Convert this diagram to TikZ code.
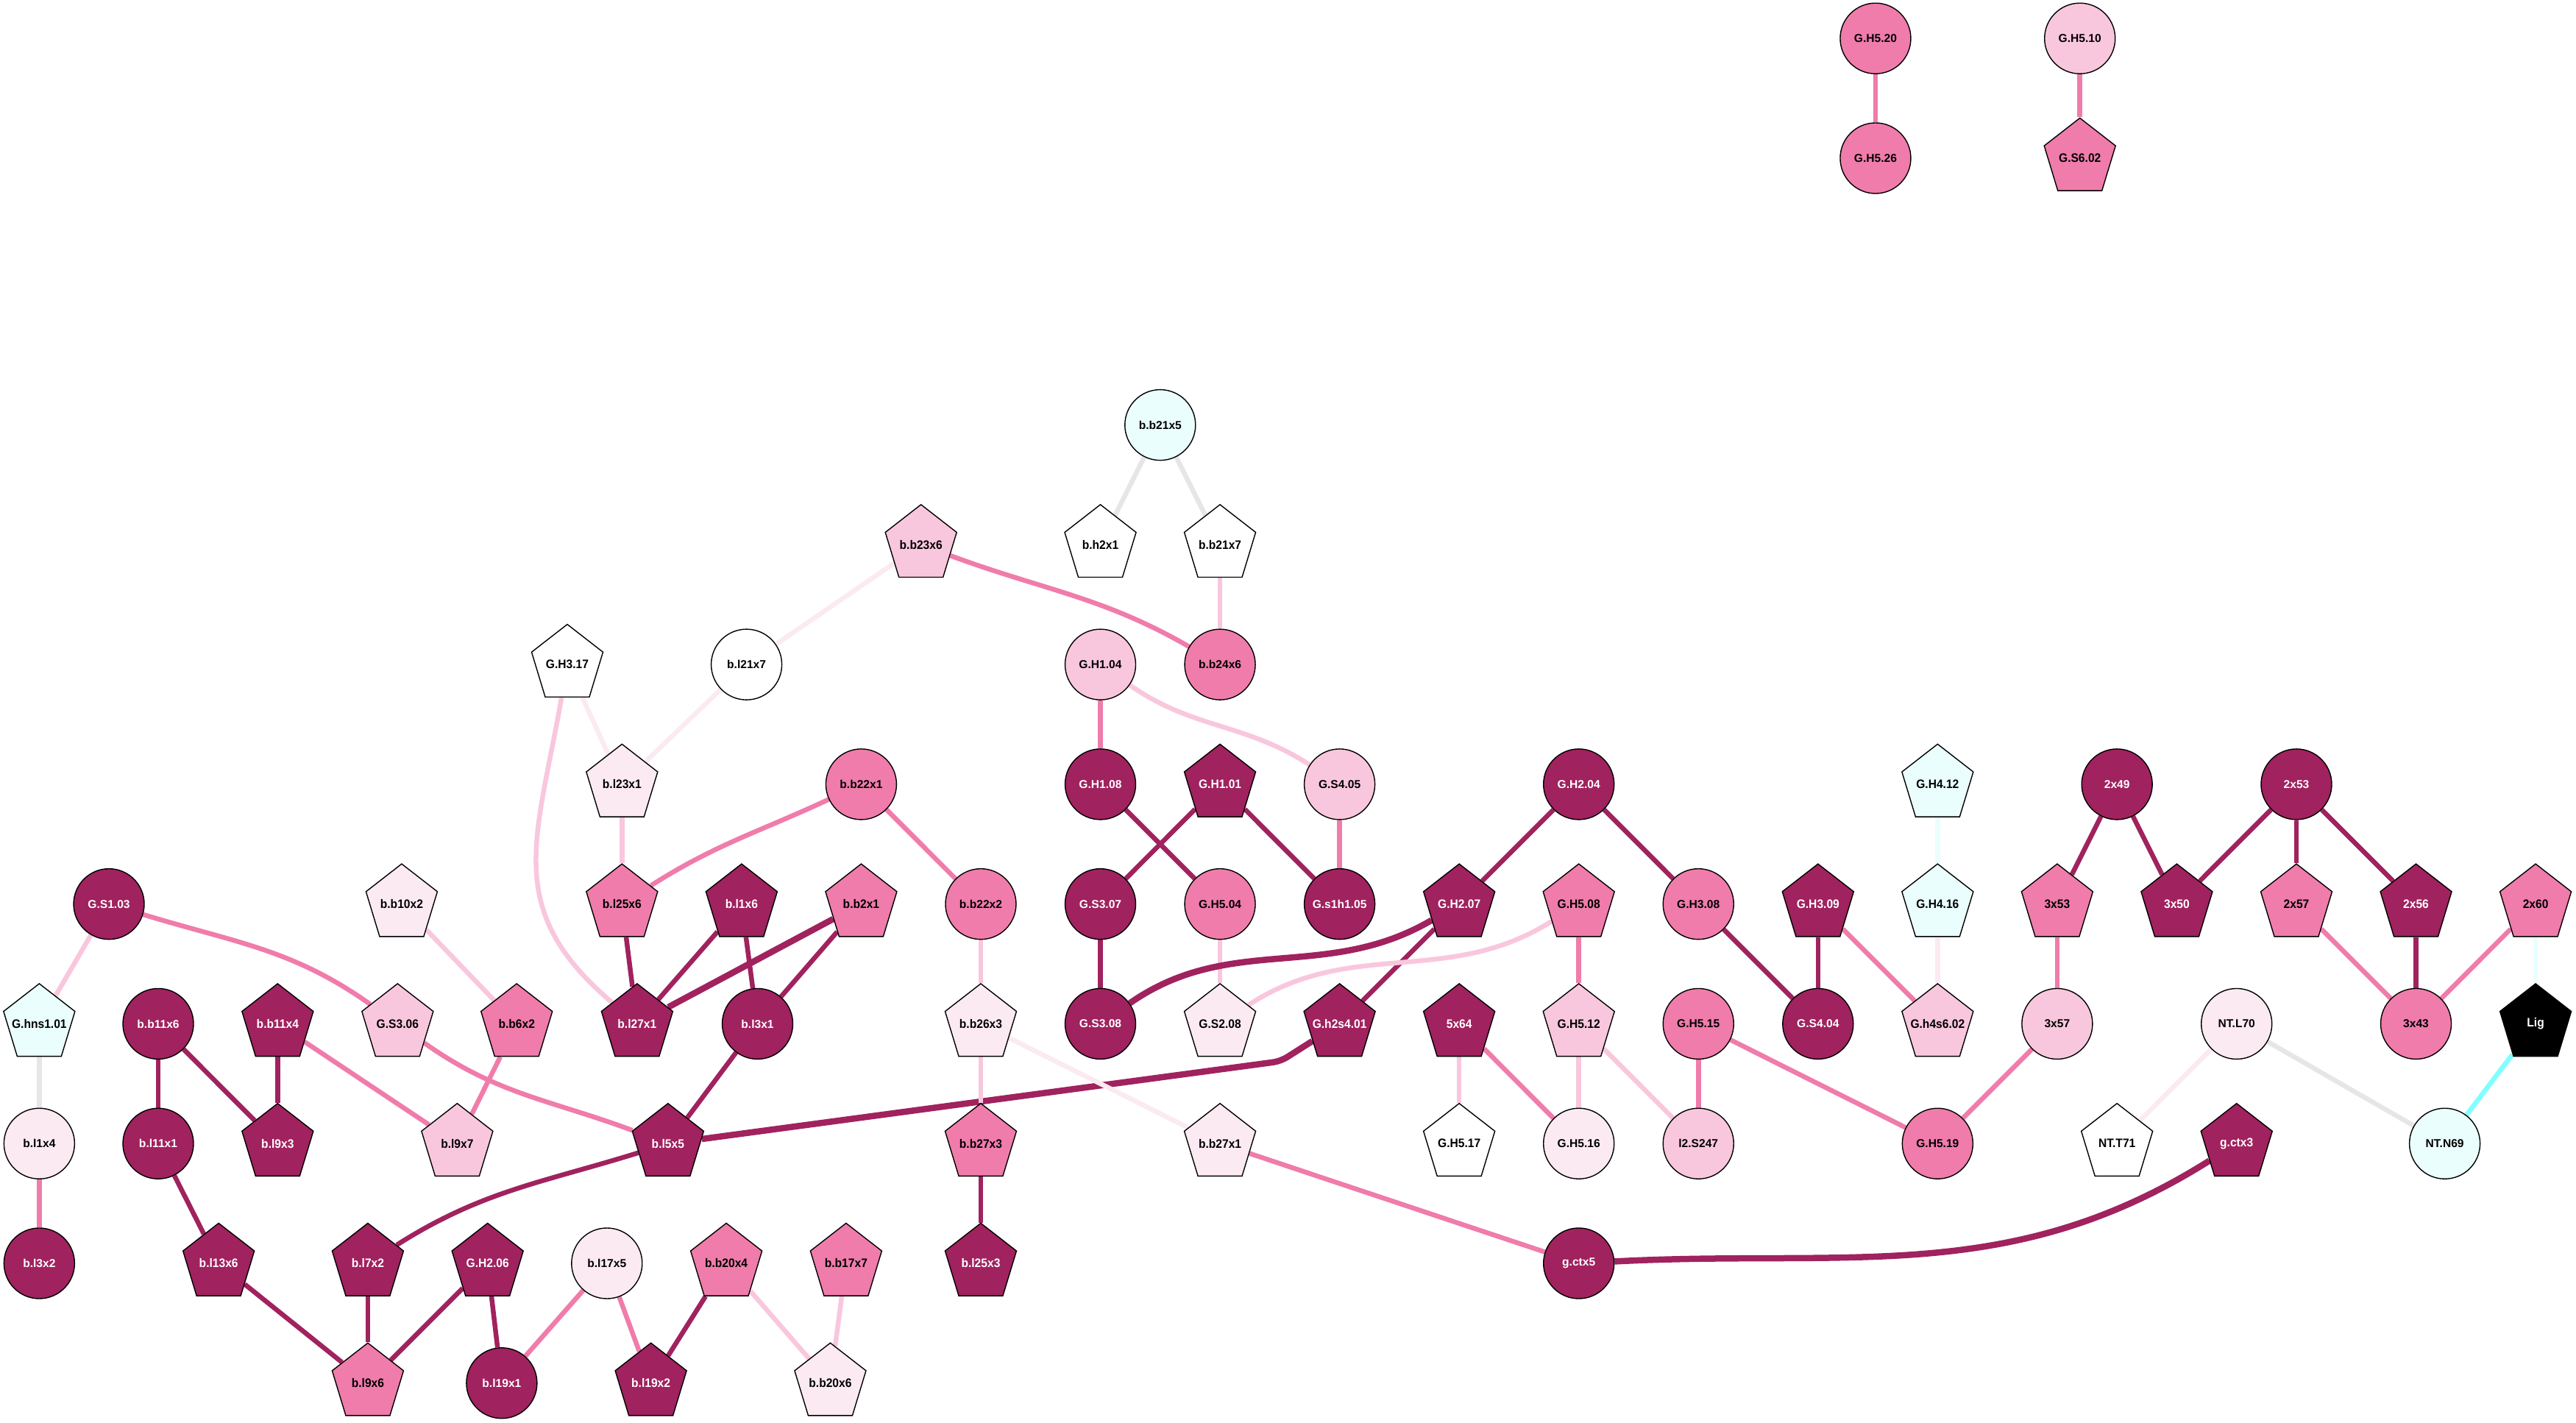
\documentclass[tikz,border=0pt]{standalone}
\usepackage{fontspec}
\setmainfont{Liberation Sans}
\usetikzlibrary{shapes.geometric}
\definecolor{cD}{RGB}{160,34,94}
\definecolor{cM}{RGB}{240,124,171}
\definecolor{cL}{RGB}{249,199,221}
\definecolor{cV}{RGB}{251,234,242}
\definecolor{cC}{RGB}{234,255,253}
\definecolor{cG}{RGB}{230,230,230}
\definecolor{cA}{RGB}{128,255,255}
\newcommand\lb[1]{\makebox[0pt]{#1}}
\pgfdeclarelayer{bg}
\pgfsetlayers{bg,main}
\begin{document}
\begin{tikzpicture}[x=2.2328pt,y=2.2328pt,
 nb/.style={draw=black,line width=1.4pt,inner sep=0pt,text=black,font=\bfseries\fontsize{15.6pt}{18pt}\selectfont},
 cir/.style={nb,circle,minimum size=96pt},
 pen/.style={nb,regular polygon,regular polygon sides=5,minimum size=102pt,yscale=1.07,transform shape},
 fD/.style={fill=cD,text=white},
 fM/.style={fill=cM},
 fL/.style={fill=cL},
 fV/.style={fill=cV},
 fC/.style={fill=cC},
 fW/.style={fill=white},
 fK/.style={fill=black,text=white},
 ed/.style={line width=6.5pt},
 tk/.style={line width=8.5pt},
 eD/.style={ed,draw=cD},
 eM/.style={ed,draw=cM},
 eL/.style={ed,draw=cL},
 eV/.style={ed,draw=cV},
 eC/.style={ed,draw=cC},
 eG/.style={ed,draw=cG},
 eA/.style={ed,draw=cA}
]
\useasboundingbox (0,0) rectangle (1568,866);
% top
\node[cir,fM] (GH520) at (1141.6,842.6) {\lb{G.H5.20}};
\node[cir,fM] (GH526) at (1141.6,769.7) {\lb{G.H5.26}};
\node[cir,fL] (GH510) at (1266,842.6) {\lb{G.H5.10}};
\node[pen,fM] (GS602) at (1266,769.7) {\lb{G.S6.02}};
% r1
\node[cir,fC] (bb21x5) at (706.2,607.3) {\lb{b.b21x5}};
% r2
\node[pen,fL] (bb23x6) at (560.6,534.4) {\lb{b.b23x6}};
\node[pen,fW] (bh2x1) at (669.8,534.4) {\lb{b.h2x1}};
\node[pen,fW] (bb21x7) at (742.6,534.4) {\lb{b.b21x7}};
% r3
\node[pen,fW] (GH317) at (345.3,461.5) {\lb{G.H3.17}};
\node[cir,fW] (bl21x7) at (454.4,461.5) {\lb{b.l21x7}};
\node[cir,fL] (GH104) at (669.8,461.5) {\lb{G.H1.04}};
\node[cir,fM] (bb24x6) at (742.6,461.5) {\lb{b.b24x6}};
% r4
\node[pen,fV] (bl23x1) at (378.6,388.6) {\lb{b.l23x1}};
\node[cir,fM] (bb22x1) at (524.2,388.6) {\lb{b.b22x1}};
\node[cir,fD] (GH108) at (669.8,388.6) {\lb{G.H1.08}};
\node[pen,fD] (GH101) at (742.6,388.6) {\lb{G.H1.01}};
\node[cir,fL] (GS405) at (815.4,388.6) {\lb{G.S4.05}};
\node[cir,fD] (GH204) at (961,388.6) {\lb{G.H2.04}};
\node[pen,fC] (GH412) at (1179.4,388.6) {\lb{G.H4.12}};
\node[cir,fD] (n2x49) at (1288.6,388.6) {\lb{2x49}};
\node[cir,fD] (n2x53) at (1397.8,388.6) {\lb{2x53}};
% r5
\node[cir,fD] (GS103) at (66.3,315.7) {\lb{G.S1.03}};
\node[pen,fV] (bb10x2) at (244.5,315.7) {\lb{b.b10x2}};
\node[pen,fM] (bl25x6) at (378.6,315.7) {\lb{b.l25x6}};
\node[pen,fD] (bl1x6) at (451.4,315.7) {\lb{b.l1x6}};
\node[pen,fM] (bb2x1) at (524.2,315.7) {\lb{b.b2x1}};
\node[cir,fM] (bb22x2) at (597,315.7) {\lb{b.b22x2}};
\node[cir,fD] (GS307) at (669.8,315.7) {\lb{G.S3.07}};
\node[cir,fM] (GH504) at (742.6,315.7) {\lb{G.H5.04}};
\node[cir,fD] (Gs1h105) at (815.4,315.7) {\lb{G.s1h1.05}};
\node[pen,fD] (GH207) at (888.2,315.7) {\lb{G.H2.07}};
\node[pen,fM] (GH508) at (961,315.7) {\lb{G.H5.08}};
\node[cir,fM] (GH308) at (1033.8,315.7) {\lb{G.H3.08}};
\node[pen,fD] (GH309) at (1106.6,315.7) {\lb{G.H3.09}};
\node[pen,fC] (GH416) at (1179.4,315.7) {\lb{G.H4.16}};
\node[pen,fM] (n3x53) at (1252.2,315.7) {\lb{3x53}};
\node[pen,fD] (n3x50) at (1325,315.7) {\lb{3x50}};
\node[pen,fM] (n2x57) at (1397.8,315.7) {\lb{2x57}};
\node[pen,fD] (n2x56) at (1470.6,315.7) {\lb{2x56}};
\node[pen,fM] (n2x60) at (1543.4,315.7) {\lb{2x60}};
% r6
\node[pen,fC] (Ghns101) at (23.9,242.8) {\lb{G.hns1.01}};
\node[cir,fD] (bb11x6) at (96.3,242.8) {\lb{b.b11x6}};
\node[pen,fD] (bb11x4) at (169,242.8) {\lb{b.b11x4}};
\node[pen,fL] (GS306) at (242,242.8) {\lb{G.S3.06}};
\node[pen,fM] (bb6x2) at (314.5,242.8) {\lb{b.b6x2}};
\node[pen,fD] (bl27x1) at (387.8,242.8) {\lb{b.l27x1}};
\node[cir,fD] (bl3x1) at (461.1,242.8) {\lb{b.l3x1}};
\node[pen,fV] (bb26x3) at (597,242.8) {\lb{b.b26x3}};
\node[cir,fD] (GS308) at (669.8,242.8) {\lb{G.S3.08}};
\node[pen,fV] (GS208) at (742.6,242.8) {\lb{G.S2.08}};
\node[pen,fD] (Gh2s401) at (815.4,242.8) {\lb{G.h2s4.01}};
\node[pen,fD] (n5x64) at (888.2,242.8) {\lb{5x64}};
\node[pen,fL] (GH512) at (961,242.8) {\lb{G.H5.12}};
\node[cir,fM] (GH515) at (1033.8,242.8) {\lb{G.H5.15}};
\node[cir,fD] (GS404) at (1106.6,242.8) {\lb{G.S4.04}};
\node[pen,fL] (Gh4s602) at (1179.4,242.8) {\lb{G.h4s6.02}};
\node[cir,fL] (n3x57) at (1252.2,242.8) {\lb{3x57}};
\node[cir,fV] (NTL70) at (1361.4,242.8) {\lb{NT.L70}};
\node[cir,fM] (n3x43) at (1470.6,242.8) {\lb{3x43}};
\node[pen,fK] (Lig) at (1543.4,242.8) {\lb{Lig}};
% r7
\node[cir,fV] (bl1x4) at (23.9,169.9) {\lb{b.l1x4}};
\node[cir,fD] (bl11x1) at (96.3,169.9) {\lb{b.l11x1}};
\node[pen,fD] (bl9x3) at (169,169.9) {\lb{b.l9x3}};
\node[pen,fL] (bl9x7) at (278.3,169.9) {\lb{b.l9x7}};
\node[pen,fD] (bl5x5) at (406.6,169.9) {\lb{b.l5x5}};
\node[pen,fM] (bb27x3) at (597,169.9) {\lb{b.b27x3}};
\node[pen,fV] (bb27x1) at (742.6,169.9) {\lb{b.b27x1}};
\node[pen,fW] (GH517) at (888.2,169.9) {\lb{G.H5.17}};
\node[cir,fV] (GH516) at (961,169.9) {\lb{G.H5.16}};
\node[cir,fL] (l2S247) at (1033.8,169.9) {\lb{l2.S247}};
\node[cir,fM] (GH519) at (1179.4,169.9) {\lb{G.H5.19}};
\node[pen,fW] (NTT71) at (1288.6,169.9) {\lb{NT.T71}};
\node[pen,fD] (gctx3) at (1361.4,169.9) {\lb{g.ctx3}};
\node[cir,fC] (NTN69) at (1488.1,169.9) {\lb{NT.N69}};
% r8
\node[cir,fD] (bl3x2) at (23.9,97) {\lb{b.l3x2}};
\node[pen,fD] (bl13x6) at (133.1,97) {\lb{b.l13x6}};
\node[pen,fD] (bl7x2) at (223.9,97) {\lb{b.l7x2}};
\node[pen,fD] (GH206) at (296.8,97) {\lb{G.H2.06}};
\node[cir,fV] (bl17x5) at (369.4,97) {\lb{b.l17x5}};
\node[pen,fM] (bb20x4) at (442.1,97) {\lb{b.b20x4}};
\node[pen,fM] (bb17x7) at (515,97) {\lb{b.b17x7}};
\node[pen,fD] (bl25x3) at (597,97) {\lb{b.l25x3}};
\node[cir,fD] (gctx5) at (961,97) {\lb{g.ctx5}};
% r9
\node[pen,fM] (bl9x6) at (223.9,24.1) {\lb{b.l9x6}};
\node[cir,fD] (bl19x1) at (305.4,24.1) {\lb{b.l19x1}};
\node[pen,fD] (bl19x2) at (396.2,24.1) {\lb{b.l19x2}};
\node[pen,fV] (bb20x6) at (505.4,24.1) {\lb{b.b20x6}};
\coordinate (bendA) at (779.5,220);
\begin{pgfonlayer}{bg}
\draw[eM] (GH520) -- (GH526);
\draw[eM] (GH510) -- (GS602);
\draw[eG] (bb21x5) -- (bh2x1);
\draw[eG] (bb21x5) -- (bb21x7);
\draw[eL] (bb21x7) -- (bb24x6);
\draw[eM] (bb23x6) to[out=-20,in=150] (bb24x6);
\draw[eV] (bb23x6) -- (bl21x7);
\draw[eV] (bl21x7) -- (bl23x1);
\draw[eV] (GH317) -- (bl23x1);
\draw[eL] (GH317) to[out=-100,in=140,looseness=1.2] (bl27x1);
\draw[eL] (bl23x1) -- (bl25x6);
\draw[eM] (bb22x1) to[out=205,in=32] (bl25x6);
\draw[eM] (bb22x1) -- (bb22x2);
\draw[eD] (bl25x6) -- (bl27x1);
\draw[eD] (bl1x6) -- (bl27x1);
\draw[eD] (bl1x6) -- (bl3x1);
\draw[eD,tk] (bb2x1) -- (bl27x1);
\draw[eD] (bb2x1) -- (bl3x1);
\draw[eD] (bl3x1) -- (bl5x5);
\draw[eL] (GS103) -- (Ghns101);
\draw[eM] (GS103) to[out=-17,in=145] (GS306);
\draw[eM] (GS306) to[out=-35,in=160] (bl5x5);
\draw[eL] (bb10x2) -- (bb6x2);
\draw[eM] (bb6x2) -- (bl9x7);
\draw[eM] (bb11x4) -- (bl9x7);
\draw[eD] (bb11x4) -- (bl9x3);
\draw[eD] (bb11x6) -- (bl9x3);
\draw[eD] (bb11x6) -- (bl11x1);
\draw[eD] (bl11x1) -- (bl13x6);
\draw[eD] (bl13x6) -- (bl9x6);
\draw[eG] (Ghns101) -- (bl1x4);
\draw[eM] (bl1x4) -- (bl3x2);
\draw[eD] (bl5x5) to[out=197,in=32] (bl7x2);
\draw[eD] (bl7x2) -- (bl9x6);
\draw[eD] (GH206) -- (bl9x6);
\draw[eD] (GH206) -- (bl19x1);
\draw[eM] (bl17x5) -- (bl19x1);
\draw[eM] (bl17x5) -- (bl19x2);
\draw[eD] (bb20x4) -- (bl19x2);
\draw[eL] (bb20x4) -- (bb20x6);
\draw[eL] (bb17x7) -- (bb20x6);
\draw[eD,tk,rounded corners=10pt] (bl5x5) -- (bendA) -- (Gh2s401);
\draw[eL] (bb22x2) -- (bb26x3);
\draw[eL] (bb26x3) -- (bb27x3);
\draw[eD] (bb27x3) -- (bl25x3);
\draw[eV] (bb26x3) -- (bb27x1);
\draw[eM] (bb27x1) -- (gctx5);
\draw[eD,tk] (gctx5) to[out=3,in=212] (gctx3);
\draw[eM] (GH104) -- (GH108);
\draw[eL] (GH104) to[out=-35,in=147] (GS405);
\draw[eD] (GH108) -- (GH504);
\draw[eD] (GH101) -- (GS307);
\draw[eD] (GH101) -- (Gs1h105);
\draw[eM] (GS405) -- (Gs1h105);
\draw[eD] (GS307) -- (GS308);
\draw[eL] (GH504) -- (GS208);
\draw[eD] (GH204) -- (GH207);
\draw[eD] (GH204) -- (GH308);
\draw[eD,tk] (GH207) to[out=210,in=35] (GS308);
\draw[eD] (GH207) -- (Gh2s401);
\draw[eL] (GH508) to[out=212,in=33] (GS208);
\draw[eM] (GH508) -- (GH512);
\draw[eL] (GH512) -- (GH516);
\draw[eL] (GH512) -- (l2S247);
\draw[eL] (n5x64) -- (GH517);
\draw[eM] (n5x64) -- (GH516);
\draw[eM] (GH515) -- (l2S247);
\draw[eM] (GH515) -- (GH519);
\draw[eD] (GH308) -- (GS404);
\draw[eD] (GH309) -- (GS404);
\draw[eM] (GH309) -- (Gh4s602);
\draw[eC] (GH412) -- (GH416);
\draw[eV] (GH416) -- (Gh4s602);
\draw[eD] (n2x49) -- (n3x53);
\draw[eD] (n2x49) -- (n3x50);
\draw[eD] (n2x53) -- (n3x50);
\draw[eD] (n2x53) -- (n2x57);
\draw[eD] (n2x53) -- (n2x56);
\draw[eM] (n3x53) -- (n3x57);
\draw[eM] (n3x57) -- (GH519);
\draw[eM] (n2x57) -- (n3x43);
\draw[eD] (n2x56) -- (n3x43);
\draw[eM] (n2x60) -- (n3x43);
\draw[eC] (n2x60) -- (Lig);
\draw[eA] (Lig) -- (NTN69);
\draw[eG] (NTL70) -- (NTN69);
\draw[eV] (NTL70) -- (NTT71);
\end{pgfonlayer}
\end{tikzpicture}
\end{document}
